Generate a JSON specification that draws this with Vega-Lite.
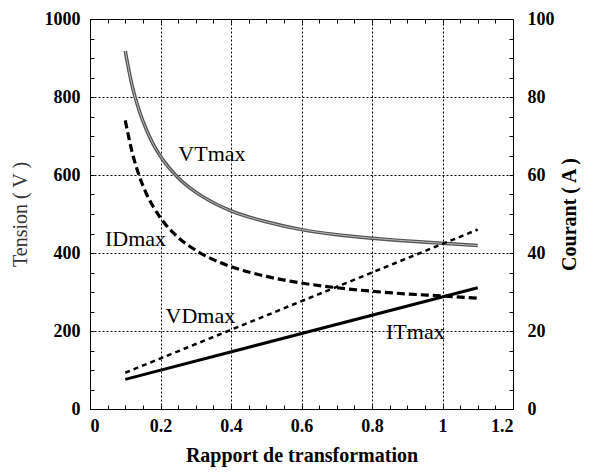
{
  "$schema": "https://vega.github.io/schema/vega-lite/v6.json",
  "width": 423,
  "height": 390,
  "autosize": {"type": "none"},
  "padding": {"left": 90, "top": 19, "right": 85, "bottom": 63},
  "background": "white",
  "config": {
    "font": "Liberation Serif",
    "view": {"stroke": "black", "strokeWidth": 1},
    "axis": {
      "domainColor": "black",
      "tickColor": "black",
      "gridColor": "black",
      "gridDash": [2, 2],
      "gridWidth": 1,
      "gridOpacity": 1,
      "labelFont": "Liberation Serif",
      "labelFontWeight": "bold",
      "labelFontSize": 18,
      "labelColor": "black",
      "titleFont": "Liberation Serif",
      "titleColor": "black",
      "titleFontSize": 20
    }
  },
  "datasets": {
    "volt": [
      {"x": 0.1, "v": 918, "s": "VTmax"},
      {"x": 0.12, "v": 827, "s": "VTmax"},
      {"x": 0.14, "v": 764, "s": "VTmax"},
      {"x": 0.16, "v": 716, "s": "VTmax"},
      {"x": 0.18, "v": 678, "s": "VTmax"},
      {"x": 0.2, "v": 648, "s": "VTmax"},
      {"x": 0.25, "v": 593, "s": "VTmax"},
      {"x": 0.3, "v": 556, "s": "VTmax"},
      {"x": 0.35, "v": 529, "s": "VTmax"},
      {"x": 0.4, "v": 508, "s": "VTmax"},
      {"x": 0.5, "v": 480, "s": "VTmax"},
      {"x": 0.6, "v": 460, "s": "VTmax"},
      {"x": 0.7, "v": 447, "s": "VTmax"},
      {"x": 0.8, "v": 438, "s": "VTmax"},
      {"x": 0.9, "v": 431, "s": "VTmax"},
      {"x": 1.0, "v": 425, "s": "VTmax"},
      {"x": 1.1, "v": 419, "s": "VTmax"}
    ],
    "vd": [
      {"x": 0.1, "v": 93, "s": "VDmax"},
      {"x": 1.1, "v": 460, "s": "VDmax"}
    ],
    "idm": [
      {"x": 0.1, "a": 74, "s": "IDmax"},
      {"x": 0.12, "a": 65.7, "s": "IDmax"},
      {"x": 0.14, "a": 59.7, "s": "IDmax"},
      {"x": 0.16, "a": 55.2, "s": "IDmax"},
      {"x": 0.18, "a": 51.8, "s": "IDmax"},
      {"x": 0.2, "a": 49, "s": "IDmax"},
      {"x": 0.25, "a": 44, "s": "IDmax"},
      {"x": 0.3, "a": 40.7, "s": "IDmax"},
      {"x": 0.35, "a": 38.3, "s": "IDmax"},
      {"x": 0.4, "a": 36.5, "s": "IDmax"},
      {"x": 0.5, "a": 34, "s": "IDmax"},
      {"x": 0.6, "a": 32.3, "s": "IDmax"},
      {"x": 0.7, "a": 31.1, "s": "IDmax"},
      {"x": 0.8, "a": 30.2, "s": "IDmax"},
      {"x": 0.9, "a": 29.5, "s": "IDmax"},
      {"x": 1.0, "a": 29, "s": "IDmax"},
      {"x": 1.1, "a": 28.4, "s": "IDmax"}
    ],
    "itm": [
      {"x": 0.1, "a": 7.6, "s": "ITmax"},
      {"x": 1.1, "a": 31.1, "s": "ITmax"}
    ],
    "labels": [
      {"x": 0.346, "v": 654, "t": "VTmax"},
      {"x": 0.129, "v": 436, "t": "IDmax"},
      {"x": 0.313, "v": 238, "t": "VDmax"},
      {"x": 0.923, "v": 197, "t": "ITmax"}
    ]
  },
  "layer": [
    {
      "encoding": {
        "x": {
          "field": "x", "type": "quantitative",
          "scale": {"domain": [0, 1.2], "nice": false, "zero": false},
          "axis": {"title": "Rapport de transformation", "orient": "bottom", "values": [0, 0.2, 0.4, 0.6, 0.8, 1, 1.2],
                   "format": "~g", "ticks": false, "titleFontWeight": "bold", "labelPadding": 8, "titlePadding": 10, "grid": true}
        },
        "y": {
          "field": "v", "type": "quantitative",
          "scale": {"domain": [0, 1000], "nice": false},
          "axis": {"title": "Tension ( V )", "orient": "left", "values": [0, 200, 400, 600, 800, 1000],
                   "format": "d", "ticks": false, "titleFontWeight": "normal", "titleColor": "#333", "labelPadding": 10, "titlePadding": 14, "grid": true}
        }
      },
      "layer": [
        {"data": {"name": "volt"}, "mark": {"type": "line", "color": "#555", "strokeWidth": 3.5, "interpolate": "monotone"}},
        {"data": {"name": "volt"}, "mark": {"type": "line", "color": "#bbb", "strokeWidth": 1, "interpolate": "monotone"}},
        {"data": {"name": "vd"}, "mark": {"type": "line", "color": "black", "strokeWidth": 2.5, "strokeDash": [5, 4]}},
        {"data": {"name": "labels"}, "mark": {"type": "text", "fontSize": 22, "font": "Liberation Serif", "color": "black"},
         "encoding": {"text": {"field": "t"}}}
      ]
    },
    {
      "encoding": {
        "x": {"field": "x", "type": "quantitative", "scale": {"domain": [0, 1.2], "nice": false, "zero": false},
              "axis": {"orient": "top", "title": null, "labels": false, "grid": false, "domain": false, "ticks": true, "tickColor": "black", "tickWidth": 1, "tickSize": -4,
                       "values": [0.05, 0.1, 0.15, 0.2, 0.25, 0.3, 0.35, 0.4, 0.45, 0.5, 0.55, 0.6, 0.65, 0.7, 0.75, 0.8, 0.85, 0.9, 0.95, 1, 1.05, 1.1, 1.15]}},
        "y": {
          "field": "a", "type": "quantitative",
          "scale": {"domain": [0, 100], "nice": false},
          "axis": {"title": "Courant ( A )", "orient": "right",
                   "values": [0, 20, 40, 60, 80, 100], "ticks": false,
                   "titleFontWeight": "bold", "titleAngle": 270, "titleBaseline": "top", "labelPadding": 14, "titlePadding": 5, "grid": false}
        }
      },
      "layer": [
        {"data": {"name": "idm"}, "mark": {"type": "line", "color": "black", "strokeWidth": 3.2, "strokeDash": [8, 4], "interpolate": "monotone"}},
        {"data": {"name": "itm"}, "mark": {"type": "line", "color": "black", "strokeWidth": 3}}
      ]
    },
    {
      "data": {"name": "itm"},
      "mark": {"type": "point", "opacity": 0},
      "encoding": {
        "x": {"field": "x", "type": "quantitative", "scale": {"domain": [0, 1.2], "nice": false, "zero": false},
              "axis": {"orient": "bottom", "title": null, "labels": false, "grid": false, "domain": false, "ticks": true, "tickColor": "black", "tickWidth": 1, "tickSize": -4,
                       "values": [0.05, 0.1, 0.15, 0.2, 0.25, 0.3, 0.35, 0.4, 0.45, 0.5, 0.55, 0.6, 0.65, 0.7, 0.75, 0.8, 0.85, 0.9, 0.95, 1, 1.05, 1.1, 1.15]}},
        "y": {"field": "a", "type": "quantitative", "scale": {"domain": [0, 100], "nice": false},
              "axis": {"orient": "left", "title": null, "labels": false, "grid": false, "domain": false, "ticks": true, "tickColor": "black", "tickWidth": 1, "tickSize": -4,
                       "values": [5, 10, 15, 20, 25, 30, 35, 40, 45, 50, 55, 60, 65, 70, 75, 80, 85, 90, 95]}}
      }
    },
    {
      "data": {"name": "itm"},
      "mark": {"type": "point", "opacity": 0},
      "encoding": {
        "x": {"field": "x", "type": "quantitative", "scale": {"domain": [0, 1.2], "nice": false, "zero": false}, "axis": null},
        "y": {"field": "a", "type": "quantitative", "scale": {"domain": [0, 100], "nice": false},
              "axis": {"orient": "right", "title": null, "labels": false, "grid": false, "domain": false, "ticks": true, "tickColor": "black", "tickWidth": 1, "tickSize": -4,
                       "values": [5, 10, 15, 20, 25, 30, 35, 40, 45, 50, 55, 60, 65, 70, 75, 80, 85, 90, 95]}}
      }
    }
  ],
  "resolve": {"scale": {"y": "independent"}, "axis": {"x": "independent", "y": "independent"}}
}
